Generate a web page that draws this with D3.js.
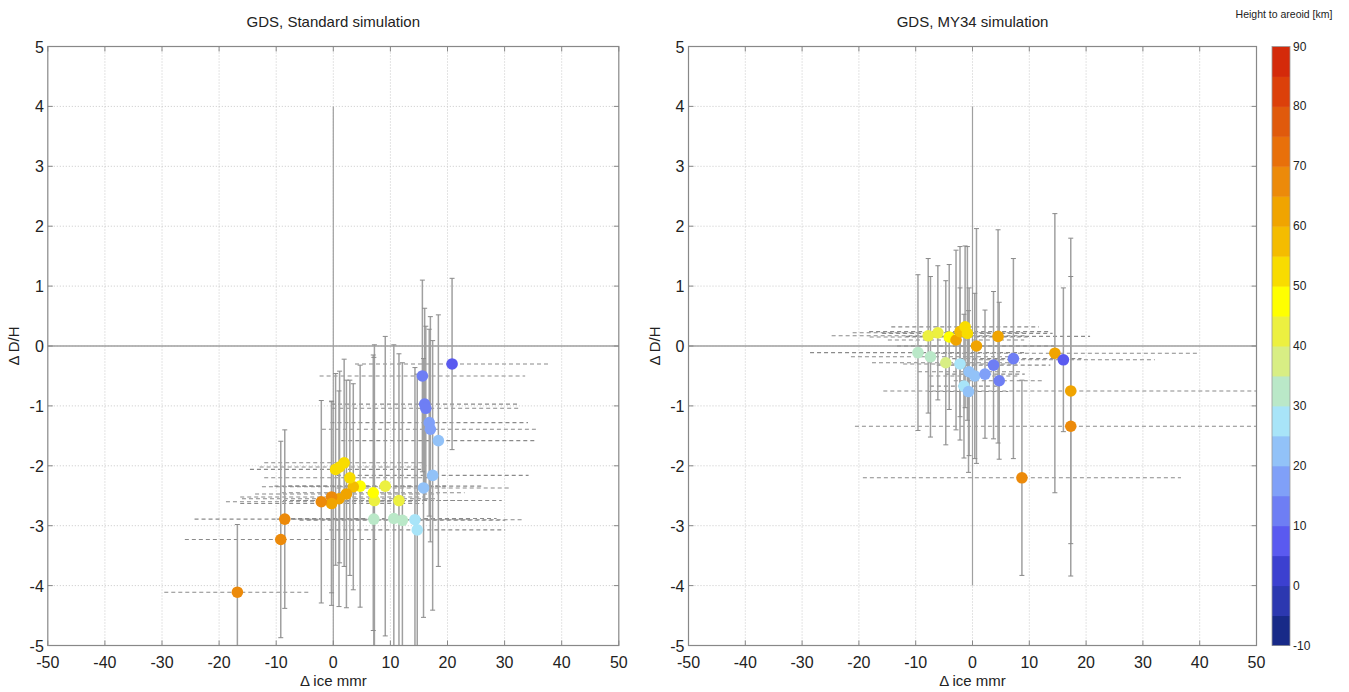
<!DOCTYPE html>
<html>
<head>
<meta charset="utf-8">
<script src="https://cdn.jsdelivr.net/npm/d3@7"></script>
<style>
  body { margin: 0; background: #fff; }
  text { font-family: "Liberation Sans", Arial, sans-serif; fill: #222; }
</style>
</head>
<body>
<div id="chart"></div>
<script>
// Standard simulation (left panel)
const stdIce     = [20.8, 15.6, 16.0, 16.2, 16.8, 17.0, 18.4, 17.4, 15.8, 14.3, 14.7, 12.1, 10.6, 11.5, 9.1, 7.1,
                    7.2, 7.0, 4.7, 3.5, 2.9, 1.9, 1.1, 0.4, 2.3, 1.0, -0.3, -0.3, -2.1, -8.5, -9.2, -16.8];
const stdDH      = [-0.30, -0.50, -0.97, -1.04, -1.28, -1.39, -1.58, -2.16, -2.37, -2.90, -3.07, -2.91, -2.88, -2.58, -2.34, -2.89,
                    -2.58, -2.45, -2.34, -2.35, -2.20, -1.95, -2.02, -2.06, -2.47, -2.55, -2.52, -2.63, -2.60, -2.89, -3.23, -4.11];
const stdIceErr  = [17, 18, 16.4, 16.4, 17.3, 19, 17, 16.8, 15.2, 18.8, 15.4, 18, 18, 18, 17, 17,
                    16, 16, 15, 16, 15, 14, 14, 15, 16, 17, 16, 16, 16.7, 15.8, 16.8, 12.8];
const stdDHErr   = [1.43, 1.6, 1.6, 1.37, 1.56, 1.88, 2.1, 2.25, 2.16, 2.54, 2.6, 2.63, 2.9, 2.45, 2.5, 2.7,
                    2.6, 2.3, 2.02, 1.72, 1.63, 1.73, 1.6, 1.6, 1.9, 1.8, 1.6, 1.7, 1.69, 1.49, 1.64, 1.13];
const stdHeight  = [8, 12, 12, 13, 18, 18, 23, 22, 21, 28, 27, 33, 33, 41, 41, 34,
                    44, 46, 46, 57, 52, 52, 51, 52, 61, 63, 66, 64, 68, 66, 68, 69];

// MY34 simulation (right panel)
const my34Ice    = [-9.6, -7.4, -4.7, -7.8, -6.1, -4.1, -2.9, -2.2, -1.3, -0.9, 0.7, 4.5, -2.2,
                    -0.6, 0.4, 2.2, 3.7, 7.2, 4.7, -1.5, -0.7, 14.5, 16.0, 17.3, 17.3, 8.7];
const my34DH     = [-0.11, -0.18, -0.28, 0.17, 0.22, 0.15, 0.10, 0.24, 0.32, 0.21, 0.0, 0.16, -0.30,
                    -0.43, -0.50, -0.47, -0.32, -0.21, -0.58, -0.67, -0.76, -0.12, -0.23, -0.75, -1.34, -2.20];
const my34IceErr = [19, 14, 13, 17, 15, 14, 12, 16, 13, 15, 14, 16.2, 10,
                    9, 8, 7, 10, 12, 8, 6, 7, 25, 16.1, 33, 38, 28];
const my34DHErr  = [1.3, 1.34, 1.37, 1.29, 1.12, 1.21, 1.5, 1.42, 1.35, 1.45, 1.96, 1.78, 1.27,
                    1.4, 1.38, 1.07, 1.23, 1.67, 1.31, 1.2, 1.35, 2.33, 1.2, 2.55, 2.5, 1.63];
const my34Height = [33, 34, 36, 41, 41, 48, 62, 58, 52, 50, 63, 63, 28,
                    22, 20, 17, 13, 12, 11, 28, 23, 64, 8, 63, 69, 69];

// axes
const xTicks = [-50, -40, -30, -20, -10, 0, 10, 20, 30, 40, 50];
const yTicks = [-5, -4, -3, -2, -1, 0, 1, 2, 3, 4, 5];
const cbTicks = [-10, 0, 10, 20, 30, 40, 50, 60, 70, 80, 90];
const cbColors = ["#182a88", "#2c38b0", "#3c40d0", "#5a5af0", "#6e7ef4", "#80a0f8", "#92c2f8", "#a8e4f8",
                  "#bae8c8", "#d8ee84", "#ecf040", "#ffff00", "#f8dc00", "#f4bc00", "#f0a400", "#ec8a0a",
                  "#e8700a", "#e05a0c", "#dc400a", "#d42a0a"];

const W = 1349, H = 692;
const svg = d3.select("#chart").append("svg").attr("width", W).attr("height", H);

const color = d3.scaleQuantize().domain([-10, 90]).range(cbColors);

function zip(ice, dh, iceErr, dhErr, h) {
  return ice.map((d, i) => ({ x: d, y: dh[i], ex: iceErr[i], ey: dhErr[i], h: h[i] }));
}

function panel(x0, x1, title, data, zeroBottom) {
  const x = d3.scaleLinear().domain([-50, 50]).range([x0, x1]);
  const y = d3.scaleLinear().domain([-5, 5]).range([645.5, 46.5]);
  const g = svg.append("g");
  const clipId = "clip" + Math.round(x0);
  svg.append("clipPath").attr("id", clipId).append("rect")
    .attr("x", x0).attr("y", 46.5).attr("width", x1 - x0).attr("height", 599);

  // grid
  g.selectAll(".gx").data(xTicks.slice(1, -1)).enter().append("line")
    .attr("x1", d => x(d)).attr("x2", d => x(d)).attr("y1", y(5)).attr("y2", y(-5))
    .attr("stroke", "#c8c8c8").attr("stroke-dasharray", "1,2");
  g.selectAll(".gy").data(yTicks.slice(1, -1)).enter().append("line")
    .attr("y1", d => y(d)).attr("y2", d => y(d)).attr("x1", x0).attr("x2", x1)
    .attr("stroke", "#c8c8c8").attr("stroke-dasharray", "1,2");

  // zero lines
  g.append("line").attr("x1", x0).attr("x2", x1).attr("y1", y(0)).attr("y2", y(0))
    .attr("stroke", "#a0a0a0").attr("stroke-width", 1.5);
  g.append("line").attr("x1", x(0)).attr("x2", x(0)).attr("y1", y(4)).attr("y2", y(zeroBottom))
    .attr("stroke", "#a0a0a0").attr("stroke-width", 1.2);

  const pts = g.append("g").attr("clip-path", "url(#" + clipId + ")");

  // horizontal error bars (dashed)
  pts.selectAll(".ex").data(data).enter().append("line")
    .attr("x1", d => x(d.x - d.ex)).attr("x2", d => x(d.x + d.ex))
    .attr("y1", d => y(d.y)).attr("y2", d => y(d.y))
    .attr("stroke", "#8a8a8a").attr("stroke-width", 1.1).attr("stroke-dasharray", "4,3");

  // vertical error bars with caps
  pts.selectAll(".ey").data(data).enter().append("line")
    .attr("x1", d => x(d.x)).attr("x2", d => x(d.x))
    .attr("y1", d => y(d.y - d.ey)).attr("y2", d => y(d.y + d.ey))
    .attr("stroke", "#a0a0a0").attr("stroke-width", 1.5);
  [-1, 1].forEach(s => {
    pts.selectAll(".cap" + s).data(data).enter().append("line")
      .attr("x1", d => x(d.x) - 2.5).attr("x2", d => x(d.x) + 2.5)
      .attr("y1", d => y(d.y + s * d.ey)).attr("y2", d => y(d.y + s * d.ey))
      .attr("stroke", "#8a8a8a").attr("stroke-width", 1);
  });

  // points
  pts.selectAll("circle").data(data).enter().append("circle")
    .attr("cx", d => x(d.x)).attr("cy", d => y(d.y)).attr("r", 5.8)
    .attr("fill", d => color(d.h));

  // box
  g.append("rect").attr("x", x0).attr("y", y(5)).attr("width", x1 - x0).attr("height", y(-5) - y(5))
    .attr("fill", "none").attr("stroke", "#888").attr("stroke-width", 1.2);

  // ticks inside box
  xTicks.forEach(t => {
    g.append("line").attr("x1", x(t)).attr("x2", x(t)).attr("y1", y(-5)).attr("y2", y(-5) - 5).attr("stroke", "#888");
    g.append("line").attr("x1", x(t)).attr("x2", x(t)).attr("y1", y(5)).attr("y2", y(5) + 5).attr("stroke", "#888");
  });
  yTicks.forEach(t => {
    g.append("line").attr("x1", x0).attr("x2", x0 + 5).attr("y1", y(t)).attr("y2", y(t)).attr("stroke", "#888");
    g.append("line").attr("x1", x1).attr("x2", x1 - 5).attr("y1", y(t)).attr("y2", y(t)).attr("stroke", "#888");
  });

  // tick labels
  g.selectAll(".xl").data(xTicks).enter().append("text")
    .attr("x", d => x(d)).attr("y", 668).attr("text-anchor", "middle")
    .style("font-size", "16px").text(d => d);
  g.selectAll(".yl").data(yTicks).enter().append("text")
    .attr("x", x0 - 4).attr("y", d => y(d) + 6).attr("text-anchor", "end")
    .style("font-size", "16px").text(d => d);

  // labels
  g.append("text").attr("x", (x0 + x1) / 2).attr("y", 27).attr("text-anchor", "middle")
    .style("font-size", "15px").text(title);
  g.append("text").attr("x", (x0 + x1) / 2).attr("y", 686).attr("text-anchor", "middle")
    .style("font-size", "15px").text("\u0394 ice mmr");
  g.append("text").attr("transform", "translate(" + (x0 - 29) + "," + y(0) + ") rotate(-90)")
    .attr("text-anchor", "middle").style("font-size", "15px").text("\u0394 D/H");
}

panel(47.8, 618.8, "GDS, Standard simulation", zip(stdIce, stdDH, stdIceErr, stdDHErr, stdHeight), -5);
panel(688.5, 1256.5, "GDS, MY34 simulation", zip(my34Ice, my34DH, my34IceErr, my34DHErr, my34Height), -4);

// colorbar
const cb = svg.append("g");
const cy = d3.scaleLinear().domain([-10, 90]).range([645.5, 46.5]);
const steps = d3.range(-10, 90, 5);
cb.selectAll("rect").data(steps).enter().append("rect")
  .attr("x", 1272).attr("width", 18)
  .attr("y", d => cy(d + 5)).attr("height", cy(0) - cy(5) + 0.5)
  .attr("fill", d => color(d + 2.5));
cb.append("rect").attr("x", 1272).attr("y", cy(90)).attr("width", 18).attr("height", cy(-10) - cy(90))
  .attr("fill", "none").attr("stroke", "#999").attr("stroke-width", 0.8);
cb.selectAll(".cbl").data(cbTicks).enter().append("text")
  .attr("x", 1293).attr("y", d => cy(d) + 4).style("font-size", "12px").text(d => d);
cb.append("text").attr("x", 1284).attr("y", 18).attr("text-anchor", "middle")
  .style("font-size", "10.5px").text("Height to areoid [km]");
</script>
</body>
</html>
